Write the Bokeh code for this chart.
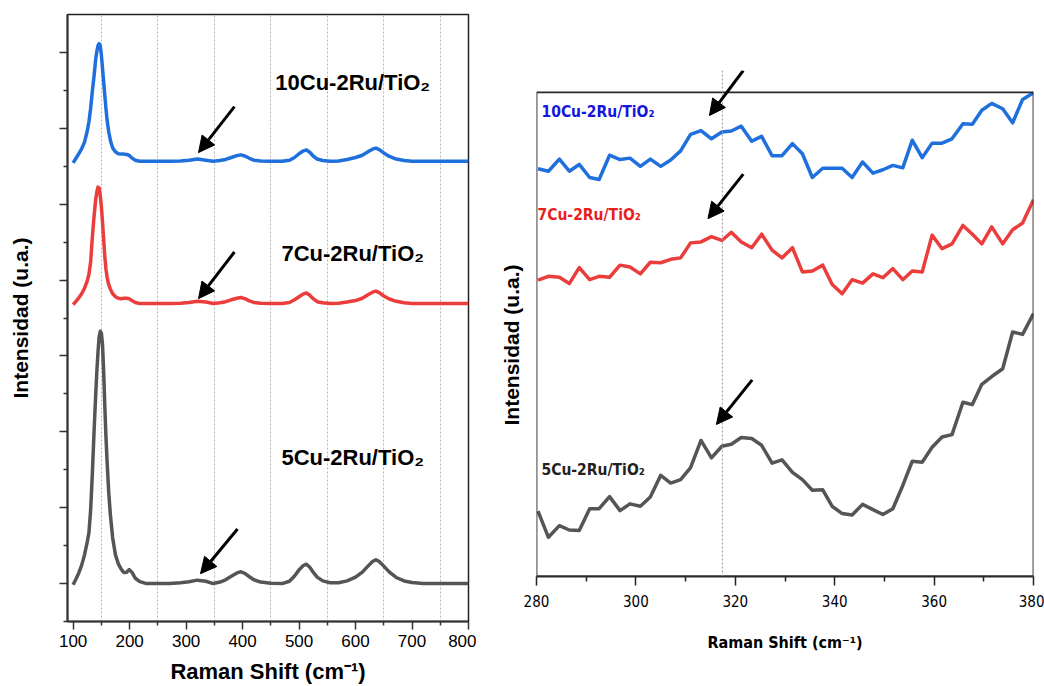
from bokeh.plotting import figure
from bokeh.layouts import row
from bokeh.models import (Range1d, FixedTicker, Arrow, NormalHead, Span, Label, BoxAnnotation, Title)
from bokeh.embed import file_html
from bokeh.resources import INLINE

# ---------------- data: full spectra (left panel) ----------------
shift_full = [100, 105, 110, 115, 120, 125, 128, 131, 134, 137, 140, 142, 144, 146, 148, 150,
              152, 154, 156, 158, 160, 163, 166, 170, 175, 180, 185, 190, 195, 199, 204, 210,
              218, 230, 250, 270, 290, 305, 320, 335, 348, 360, 370, 380, 390, 397, 404, 412,
              420, 432, 450, 470, 483, 492, 500, 507, 513, 519, 525, 532, 542, 555, 570, 585,
              600, 612, 622, 630, 636, 642, 650, 660, 672, 686, 700, 720, 750, 780, 800]

int_5cu = [-0.03, 0.12, 0.28, 0.48, 0.75, 1.1, 1.35, 1.95, 2.9, 4.0, 5.0, 5.6, 6.1, 6.5, 6.65, 6.6,
           6.3, 5.6, 4.7, 3.9, 3.25, 2.4, 1.8, 1.2, 0.75, 0.52, 0.38, 0.29, 0.3, 0.37, 0.3, 0.14,
           0.05, 0.0, 0.0, 0.0, 0.02, 0.05, 0.09, 0.06, 0.0, 0.04, 0.1, 0.19, 0.28, 0.31, 0.27, 0.18,
           0.1, 0.04, 0.01, 0.0, 0.06, 0.2, 0.36, 0.47, 0.51, 0.43, 0.3, 0.17, 0.07, 0.02, 0.02, 0.07,
           0.17, 0.3, 0.46, 0.58, 0.63, 0.58, 0.46, 0.3, 0.16, 0.07, 0.03, 0.0, 0.0, 0.0, 0.0]

int_7cu = [-0.03, 0.06, 0.15, 0.26, 0.4, 0.6, 0.78, 1.1, 1.75, 2.3, 2.75, 2.95, 3.07, 3.05, 2.85, 2.55,
           2.15, 1.7, 1.25, 0.92, 0.7, 0.5, 0.38, 0.26, 0.18, 0.14, 0.13, 0.14, 0.14, 0.13, 0.08, 0.03,
           0.0, 0.0, 0.0, 0.0, 0.01, 0.03, 0.06, 0.04, 0.0, 0.02, 0.05, 0.1, 0.14, 0.16, 0.13, 0.07,
           0.03, 0.01, 0.0, 0.0, 0.03, 0.1, 0.18, 0.25, 0.28, 0.22, 0.13, 0.05, 0.02, 0.0, 0.01, 0.04,
           0.08, 0.14, 0.23, 0.3, 0.33, 0.29, 0.2, 0.12, 0.06, 0.02, 0.0, 0.0, 0.0, 0.0, 0.0]

int_10cu = [-0.04, 0.08, 0.2, 0.33, 0.5, 0.8, 1.05, 1.4, 1.85, 2.25, 2.7, 2.9, 3.05, 3.1, 3.05, 2.8,
            2.45, 2.1, 1.75, 1.4, 1.1, 0.78, 0.55, 0.35, 0.25, 0.2, 0.19, 0.19, 0.18, 0.16, 0.09, 0.03,
            0.0, 0.0, 0.0, 0.0, 0.01, 0.03, 0.06, 0.03, 0.0, 0.02, 0.05, 0.1, 0.15, 0.17, 0.14, 0.08,
            0.03, 0.01, 0.0, 0.0, 0.03, 0.1, 0.2, 0.27, 0.3, 0.24, 0.14, 0.06, 0.02, 0.0, 0.01, 0.05,
            0.1, 0.16, 0.25, 0.32, 0.35, 0.31, 0.22, 0.13, 0.06, 0.02, 0.0, 0.0, 0.0, 0.0, 0.0]

# vertical stacking offsets of the spectra (a.u.)
offset_5cu = 0.0
offset_7cu = 7.38
offset_10cu = 11.13

# ---------------- data: zoomed region (right panel) ----------------
shift_zoom = [280.3, 282.4, 284.6, 286.6, 288.6, 290.7, 292.6, 294.7, 296.8, 298.8,
              300.9, 302.9, 305.0, 307.0, 309.0, 311.0, 313.1, 315.2, 317.3, 319.2,
              321.2, 323.3, 325.3, 327.4, 329.4, 331.5, 333.5, 335.5, 337.6, 339.5,
              341.5, 343.5, 345.6, 347.7, 349.7, 351.7, 353.7, 355.6, 357.6, 359.6,
              361.6, 363.6, 365.8, 367.7, 369.6, 371.6, 373.8, 375.8, 377.8, 380.0]

zoom_10cu = [84.2, 83.7, 86.2, 83.7, 85.1, 82.4, 82.0, 87.0, 86.1, 86.4,
             84.7, 86.2, 84.7, 86.0, 87.9, 91.3, 92.1, 90.4, 91.8, 92.0,
             93.0, 89.9, 90.9, 86.9, 86.9, 89.4, 87.3, 82.4, 84.3, 84.3,
             84.3, 82.4, 85.6, 83.3, 84.0, 84.9, 84.4, 90.1, 86.5, 89.5,
             89.5, 90.4, 93.5, 93.4, 96.3, 97.7, 96.6, 93.7, 98.5, 99.9]

zoom_7cu = [61.2, 62.0, 61.8, 60.5, 63.8, 61.3, 62.0, 61.8, 64.3, 63.9,
            62.5, 64.9, 64.8, 65.5, 65.8, 68.9, 69.1, 70.2, 69.4, 71.1,
            69.1, 67.9, 70.7, 67.4, 65.8, 67.9, 62.9, 63.1, 64.3, 60.3,
            58.4, 61.3, 60.6, 62.5, 61.7, 63.6, 61.3, 63.1, 62.9, 70.5,
            67.7, 68.7, 72.5, 70.7, 68.7, 72.2, 68.7, 71.6, 73.0, 77.8]

zoom_5cu = [13.5, 8.1, 10.5, 9.6, 9.5, 14.0, 14.0, 16.5, 13.6, 15.0,
            14.5, 16.4, 20.9, 19.3, 20.0, 22.5, 28.1, 24.5, 26.9, 27.3,
            28.7, 28.5, 27.1, 23.4, 24.1, 21.5, 20.0, 17.8, 17.9, 14.5,
            13.0, 12.7, 14.9, 13.8, 12.8, 14.0, 18.8, 23.8, 23.6, 26.7,
            28.8, 29.3, 36.0, 35.5, 39.7, 41.3, 42.9, 50.5, 50.0, 54.3]

sample_names = ["10Cu-2Ru/TiO\u2082", "7Cu-2Ru/TiO\u2082", "5Cu-2Ru/TiO\u2082"]
x_title = "Raman Shift (cm\u207b\u00b9)"
y_title = "Intensidad (u.a.)"
left_xticks = [100, 200, 300, 400, 500, 600, 700, 800]
left_yticks = [0, 2, 4, 6, 8, 10, 12, 14]
right_xticks = [280, 300, 320, 340, 360, 380]
marked_shift = 317.4

BLUE = "#1f70dc"
RED = "#ec3d3d"
GRAY = "#555555"
FONT = "Liberation Sans"
NARROW = "DejaVu Sans Condensed, Liberation Sans"


def no_frame_align(p):
    try:
        p.frame_align = False
    except Exception:
        pass


# ================= left panel =================
p1 = figure(width=476, height=686, x_range=Range1d(90, 800), y_range=Range1d(-1, 15),
            output_backend="svg", toolbar_location=None,
            min_border_left=67, min_border_right=8, min_border_top=14, min_border_bottom=61)
no_frame_align(p1)
p1.background_fill_color = "white"
p1.border_fill_color = "white"
p1.outline_line_color = "#222222"
p1.outline_line_width = 1.5

series = [(int_10cu, offset_10cu, BLUE), (int_7cu, offset_7cu, RED), (int_5cu, offset_5cu, GRAY)]
for vals, off, col in series:
    p1.line(shift_full, [v + off for v in vals], line_color=col, line_width=3.5, line_join="round")

p1.xaxis.ticker = FixedTicker(ticks=left_xticks, minor_ticks=[150, 250, 350, 450, 550, 650, 750])
p1.yaxis.ticker = FixedTicker(ticks=left_yticks, minor_ticks=[-1, 1, 3, 5, 7, 9, 11, 13])
p1.xgrid.grid_line_color = None
p1.ygrid.grid_line_color = None
p1.xgrid.minor_grid_line_color = "#b5b5b5"
p1.xgrid.minor_grid_line_dash = "2 2"
p1.xgrid.minor_grid_line_width = 1

for ax in (p1.xaxis[0], p1.yaxis[0]):
    ax.axis_line_color = "#333333"
    ax.axis_line_width = 2
    ax.major_tick_line_color = "#333333"
    ax.minor_tick_line_color = "#333333"
    ax.major_tick_line_width = 1.5
    ax.minor_tick_line_width = 1.5
    ax.major_tick_in = 0
    ax.minor_tick_in = 0
    ax.major_tick_out = 8
    ax.minor_tick_out = 4
    ax.axis_label_text_font = FONT
    ax.axis_label_text_font_style = "bold"
    ax.axis_label_text_color = "black"
    ax.major_label_text_font = FONT
    ax.major_label_text_font_size = "17px"
    ax.major_label_text_color = "black"

p1.xaxis.axis_label = x_title
p1.xaxis.axis_label_text_font_size = "22px"
p1.xaxis.major_label_standoff = 5
p1.xaxis.axis_label_standoff = 9
p1.yaxis.axis_label = y_title
p1.yaxis.axis_label_text_font_size = "21px"
p1.yaxis.major_label_overrides = {t: "" for t in left_yticks}
p1.yaxis.major_label_standoff = 0
p1.yaxis.axis_label_standoff = 28

left_label_y = [13.2, 8.7, 3.32]
for name, yy in zip(sample_names, left_label_y):
    p1.add_layout(Label(x=595, y=yy, text=name, text_align="center", text_baseline="middle",
                        text_font=FONT, text_font_style="bold", text_font_size="22px",
                        text_color="black"))

left_arrows = [(385.6, 12.57, 322, 11.36), (385.6, 8.74, 322, 7.51), (391, 1.44, 325.5, 0.26)]
for xs, ys, xe, ye in left_arrows:
    p1.add_layout(Arrow(x_start=xs, y_start=ys, x_end=xe, y_end=ye, line_width=3, line_color="black",
                        end=NormalHead(size=16, fill_color="black", line_color="black")))

# ================= right panel =================
p2 = figure(width=568, height=686, x_range=Range1d(280, 380), y_range=Range1d(0, 104.5),
            output_backend="svg", toolbar_location=None,
            min_border_left=60, min_border_right=11, min_border_top=70, min_border_bottom=110)
no_frame_align(p2)
p2.background_fill_color = "white"
p2.border_fill_color = "white"
p2.outline_line_color = None
p2.xgrid.grid_line_color = None
p2.ygrid.grid_line_color = None

# plot box (data area 0..100)
p2.add_layout(BoxAnnotation(left=280, right=380, bottom=0, top=100, fill_alpha=0,
                            line_color="#2a2a2a", line_width=1.8, line_alpha=1))
p2.add_layout(Span(location=marked_shift, dimension="height", line_color="#9a9a9a",
                   line_dash="2 2", line_width=1))

for vals, col in [(zoom_10cu, BLUE), (zoom_7cu, RED), (zoom_5cu, GRAY)]:
    p2.line(shift_zoom, vals, line_color=col, line_width=3.5, line_join="round")

p2.xaxis.ticker = FixedTicker(ticks=right_xticks, minor_ticks=[290, 310, 330, 350, 370])
xa = p2.xaxis[0]
xa.axis_line_color = "#2a2a2a"
xa.axis_line_width = 2
xa.major_tick_line_color = "#222222"
xa.minor_tick_line_color = "#222222"
xa.major_tick_line_width = 1.5
xa.minor_tick_line_width = 1.5
xa.major_tick_in = 0
xa.minor_tick_in = 0
xa.major_tick_out = 9
xa.minor_tick_out = 5
xa.major_label_text_font = NARROW
xa.major_label_text_font_size = "15px"
xa.major_label_text_color = "black"
xa.major_label_standoff = 9
xa.axis_label = x_title
xa.axis_label_text_font = NARROW
xa.axis_label_text_font_style = "bold"
xa.axis_label_text_font_size = "16px"
xa.axis_label_text_color = "black"
xa.axis_label_standoff = 23

ya = p2.yaxis[0]
ya.axis_line_color = None
ya.major_tick_out = 0
ya.minor_tick_out = 0
ya.major_tick_in = 0
ya.minor_tick_in = 0
ya.ticker = FixedTicker(ticks=[])
ya.major_label_standoff = 0

# y-axis title of the right panel
p2.add_layout(Title(text=y_title, align="left", offset=151, vertical_align="middle",
                    text_font=FONT, text_font_style="bold", text_font_size="21px",
                    text_color="black", standoff=26), "left")

right_label_pos = [(281.0, 95.9, "#1515e0"), (280.2, 74.6, "#e81e1e"), (281.0, 21.9, "#222222")]
for name, (xx, yy, col) in zip(sample_names, right_label_pos):
    p2.add_layout(Label(x=xx, y=yy, text=name, text_align="left", text_baseline="middle",
                        text_font=NARROW, text_font_style="bold", text_font_size="15.5px",
                        text_color=col))

right_arrows = [(321.6, 104.5, 314.8, 95.2), (321.6, 83.1, 314.5, 73.9), (323.4, 40.6, 316.2, 31.4)]
for xs, ys, xe, ye in right_arrows:
    p2.add_layout(Arrow(x_start=xs, y_start=ys, x_end=xe, y_end=ye, line_width=3, line_color="black",
                        end=NormalHead(size=16, fill_color="black", line_color="black")))

layout = row(p1, p2)
open("out.html", "w").write(file_html(layout, INLINE))
